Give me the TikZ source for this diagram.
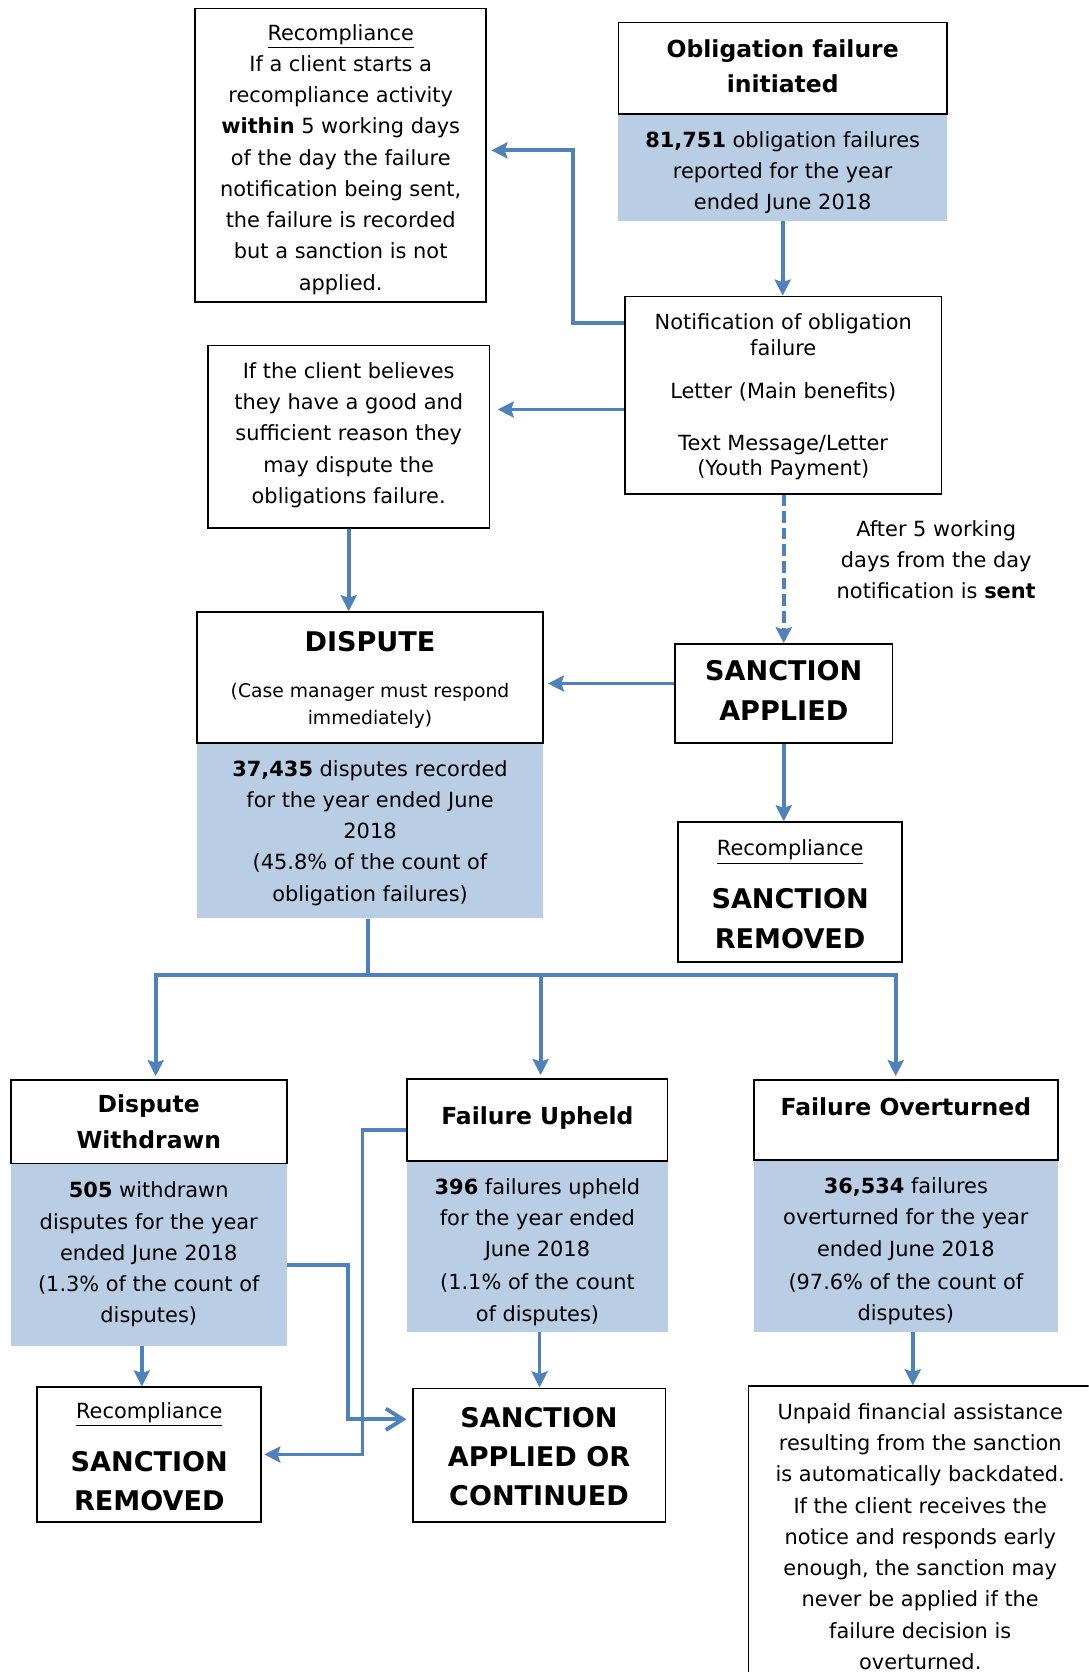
\documentclass[tikz,border=0pt]{standalone}
\usepackage{fontspec}
\setmainfont{DejaVu Sans}
\usetikzlibrary{arrows.meta}
\definecolor{lineblue}{HTML}{4F81BD}
\definecolor{fillblue}{HTML}{B9CDE5}
\newcommand\fn{\fontsize{9.8}{14.65}\selectfont\mdseries}
\newcommand\fnn{\fontsize{9.8}{12}\selectfont\mdseries}
\newcommand\fh{\fontsize{11}{16.8}\selectfont\bfseries}
\newcommand\fbig{\fontsize{12.7}{18.4}\selectfont\bfseries}
\newcommand\fsm{\fontsize{8.8}{12.5}\selectfont\mdseries}
\newcommand\tg[1]{\rule{0pt}{#1}}
\begin{document}
\begin{tikzpicture}[x=0.5pt,y=-0.5pt,
  wbox/.style={draw=black, line width=0.8pt, fill=white, inner sep=0pt, align=center, font=\fn},
  bbox/.style={fill=fillblue, inner sep=0pt, align=center, font=\fn},
  plain/.style={inner sep=0pt, align=center, font=\fn},
  conn/.style={draw=lineblue, line width=1.8pt},
  arr/.style={conn, -{Stealth[length=7.5pt,width=7.5pt,inset=1.2pt]}},
  dasharr/.style={draw=lineblue, line width=1.8pt, dash pattern=on 5.4pt off 2.4pt, -{Stealth[length=7.5pt,width=7.5pt,inset=1.2pt]}},
  openarr/.style={conn, -{Straight Barb[length=8pt,width=10pt]}}]
\useasboundingbox (0,0) rectangle (1021,1568);
\clip (0,0) rectangle (1021,1568);

% top-left recompliance
\node[wbox, minimum width=136.5pt, minimum height=137.5pt] (rec1) at (319.5,145.5)
  {\tg{11.4pt}\underline{Recompliance}\\If a client starts a\\recompliance activity\\\textbf{within} 5 working days\\of the day the failure\\notification being sent,\\the failure is recorded\\but a sanction is not\\applied.};

% obligation failure initiated
\node[bbox, minimum width=154pt, minimum height=50pt] (oblb) at (734,157)
  {\tg{12.4pt}\textbf{81,751} obligation failures\\reported for the year\\ended June 2018};
\node[wbox, font=\fh, minimum width=154pt, minimum height=43pt] (obl) at (734,64)
  {Obligation failure\\initiated\rule[-2pt]{0pt}{2pt}};

% notification
\node[wbox, font=\fnn, minimum width=148.5pt, minimum height=92.5pt] (notif) at (734.5,370.5)
  {\tg{9.4pt}Notification of obligation\\failure\\[8pt]Letter (Main benefits)\\[12.5pt]Text Message/Letter\\(Youth Payment)};

% client believes
\node[wbox, minimum width=132pt, minimum height=85.5pt] (client) at (327,409.5)
  {If the client believes\\they have a good and\\sufficient reason they\\may dispute the\\obligations failure.\rule[-3.5pt]{0pt}{3.5pt}};

% after 5 working days
\node[plain] (after) at (878,525)
  {After 5 working\\days from the day\\notification is \textbf{sent}};

% dispute
\node[bbox, minimum width=162pt, minimum height=82pt] (dispb) at (347,779)
  {\tg{9.6pt}\textbf{37,435} disputes recorded\\for the year ended June\\2018\\(45.8\% of the count of\\obligation failures)};
\node[wbox, font=\fsm, minimum width=162pt, minimum height=61.5pt] (disp) at (347,635.5)
  {\fbig\tg{11.3pt}DISPUTE\\[9pt]\fsm (Case manager must respond\\\fsm immediately)};

% sanction applied
\node[wbox, font=\fbig, minimum width=102pt, minimum height=46.5pt] (sa) at (735,650.5)
  {SANCTION\\APPLIED\rule[-3pt]{0pt}{3pt}};

% recompliance sanction removed (right)
\node[wbox, font=\fbig, minimum width=105pt, minimum height=65.5pt] (sr1) at (741,836.5)
  {\fn\tg{9.5pt}\underline{Recompliance}\\[6.5pt]SANCTION\\REMOVED};

% dispute withdrawn
\node[bbox, minimum width=129.5pt, minimum height=85.5pt] (dwb) at (139.5,1176.5)
  {\textbf{505} withdrawn\\disputes for the year\\ended June 2018\\(1.3\% of the count of\\disputes)};
\node[wbox, font=\fh, minimum width=129.5pt, minimum height=39pt] (dw) at (139.5,1052)
  {Dispute\\Withdrawn};

% failure upheld
\node[bbox, minimum width=122pt, minimum height=80pt] (fub) at (504,1169)
  {\tg{12.4pt}\textbf{396} failures upheld\\for the year ended\\June 2018\\[1pt](1.1\% of the count\\of disputes)};
\node[wbox, font=\fh, minimum width=122pt, minimum height=38.5pt] (fu) at (504,1050.5)
  {Failure Upheld\rule[-4pt]{0pt}{4pt}};

% failure overturned
\node[bbox, minimum width=142.5pt, minimum height=80.5pt] (fob) at (849.5,1168.5)
  {\tg{12.4pt}\textbf{36,534} failures\\overturned for the year\\ended June 2018\\[1pt](97.6\% of the count of\\disputes)};
\node[wbox, minimum width=142.5pt, minimum height=37.5pt] (fo) at (849.5,1050.5) {};
\node[plain, font=\fh] (fot) at (849.5,1038) {Failure Overturned};

% recompliance sanction removed (bottom left)
\node[wbox, font=\fbig, minimum width=105pt, minimum height=63pt] (sr2) at (140,1364)
  {\fn\tg{9.5pt}\underline{Recompliance}\\[6.5pt]SANCTION\\REMOVED};

% sanction applied or continued
\node[wbox, font=\fbig, minimum width=118.5pt, minimum height=62.5pt] (saoc) at (505.5,1364.5)
  {\tg{10.8pt}SANCTION\\APPLIED OR\\CONTINUED};

% unpaid
\node[wbox, minimum width=161pt, minimum height=140pt] (unpaid) at (863,1440)
  {\tg{8.5pt}Unpaid financial assistance\\resulting from the sanction\\is automatically backdated.\\If the client receives the\\notice and responds early\\enough, the sanction may\\never be applied if the\\failure decision is\\overturned.};

% connectors
\draw[arr] (oblb.south) -- (oblb.south |- notif.north);
\draw[arr, shorten >=2pt] (notif.west |- 0,303) -- (537,303) -- (537,141) -- (rec1.east |- 0,141);
\draw[arr, shorten >=3.5pt] (notif.west |- 0,384) -- (client.east |- 0,384);
\draw[arr] (client.south) -- (client.south |- disp.north);
\draw[dasharr] (notif.south -| 735,0) -- (sa.north -| 735,0);
\draw[arr, shorten >=2pt] (sa.west |- 0,641) -- (disp.east |- 0,641);
\draw[arr] (sa.south) -- (sa.south |- sr1.north);

\coordinate (jn) at (345,914);
\draw[conn] (dispb.south -| jn) -- (jn);
\draw[arr, shorten >=1.5pt] (jn) -- (146,914) -- (dw.north -| 146,0);
\draw[arr, shorten >=1.5pt] (jn) -- (840,914) -- (fo.north -| 840,0);
\draw[arr, shorten >=1.5pt] (507,914) -- (fu.north -| 507,0);

\draw[openarr, shorten >=2.5pt] (dwb.east |- 0,1186) -- (326,1186) -- (326,1331) -- (saoc.west |- 0,1331);
\draw[arr, shorten >=1pt] (fu.west |- 0,1060) -- (340,1060) -- (340,1364) -- (sr2.east |- 0,1364);
\draw[arr] (dwb.south -| 133,0) -- (sr2.north -| 133,0);
\draw[arr] (fub.south -| 506,0) -- (saoc.north -| 506,0);
\draw[arr] (fob.south -| 856,0) -- (unpaid.north -| 856,0);
\end{tikzpicture}
\end{document}
